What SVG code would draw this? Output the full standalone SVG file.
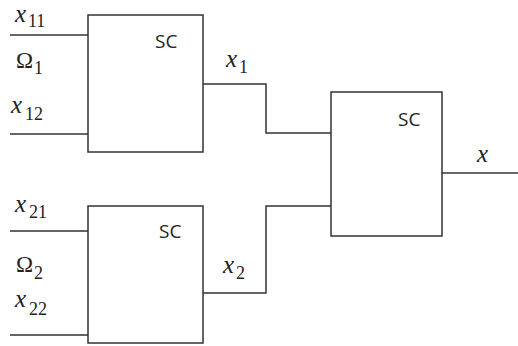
<svg xmlns="http://www.w3.org/2000/svg" width="518" height="346" viewBox="0 0 518 346">
<style>
.box{fill:#fff;stroke:#333;stroke-width:1.5}
.w{fill:none;stroke:#333;stroke-width:1.5}
.g{fill:none;stroke:#666;stroke-width:2}
.sc{font-family:"Open Sans","Liberation Sans",Arial,sans-serif;font-size:19px;fill:#222}
.v{font-family:"Liberation Serif","Times New Roman",serif;font-style:italic;font-size:25px;fill:#222}
.o{font-family:"Liberation Serif","Times New Roman",serif;font-size:23px;fill:#222}
.s{font-family:"Liberation Serif","Times New Roman",serif;font-size:18px;fill:#222}
</style>
<rect width="518" height="346" fill="#fff"/>
<g id="connectors">
<path class="g" d="M10 35H88M10 134H88"/>
<path class="w" d="M10 231H88M10 335H88"/>
<path class="w" d="M203 84H266V133H331"/>
<path class="w" d="M203 293H266V206H331"/>
<path class="w" d="M442 173H518"/>
</g>
<g id="sc1">
<rect class="box" x="88" y="15" width="115" height="137"/>
<text class="sc" x="155" y="48">SC</text>
</g>
<g id="sc2">
<rect class="box" x="88" y="206" width="115" height="137"/>
<text class="sc" x="159" y="238">SC</text>
</g>
<g id="sc3">
<rect class="box" x="331" y="92" width="111" height="144"/>
<text class="sc" x="398" y="126">SC</text>
</g>
<g id="labels">
<text class="v" x="15" y="22">x</text><text class="s" x="28" y="27">11</text>
<text class="o" x="16" y="68">Ω</text><text class="s" x="34" y="74">1</text>
<text class="v" x="11" y="113">x</text><text class="s" x="25" y="120">12</text>
<text class="v" x="226" y="67">x</text><text class="s" x="239" y="73">1</text>
<text class="v" x="15" y="212">x</text><text class="s" x="29" y="218">21</text>
<text class="o" x="16" y="272">Ω</text><text class="s" x="34" y="279">2</text>
<text class="v" x="15" y="307">x</text><text class="s" x="29" y="315">22</text>
<text class="v" x="223" y="273">x</text><text class="s" x="236" y="279">2</text>
<text class="v" x="477" y="162">x</text>
</g>
</svg>
